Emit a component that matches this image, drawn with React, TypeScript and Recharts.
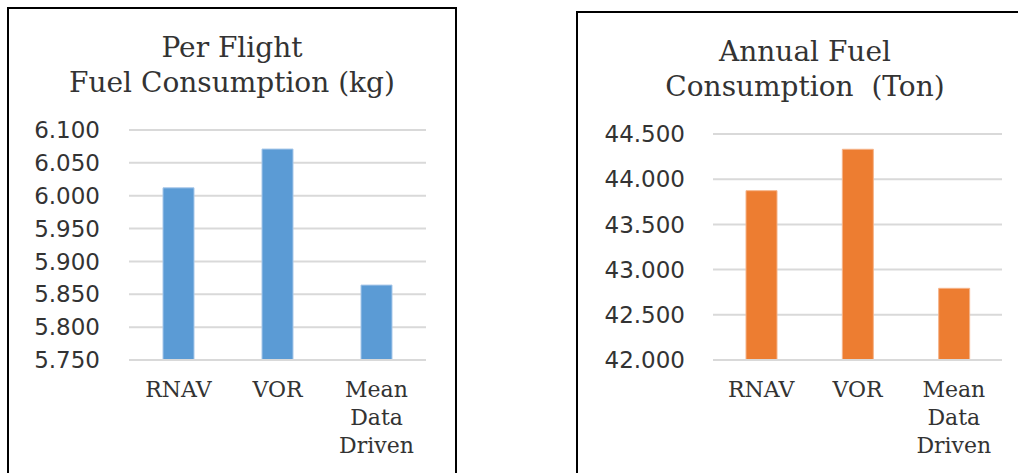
import React from 'react'
import { BarChart, Bar, XAxis, YAxis, CartesianGrid } from 'recharts'

const categories = ['RNAV', 'VOR', 'Mean Data Driven']
const perFlightKg = [6.012, 6.071, 5.864]
const annualTon = [43.873, 44.331, 42.793]
const perFlightTicks = [5.75, 5.8, 5.85, 5.9, 5.95, 6.0, 6.05, 6.1]
const annualTicks = [42.0, 42.5, 43.0, 43.5, 44.0, 44.5]

const BLUE = '#5b9bd5'
const ORANGE = '#ed7d31'
const GRID = '#d9d9d9'
const INK = '#333333'
const SERIF = '"DejaVu Serif", serif'
const SANS = '"DejaVu Sans", sans-serif'

const perFlightData = categories.map((name, i) => ({ name, value: perFlightKg[i] }))
const annualData = categories.map((name, i) => ({ name, value: annualTon[i] }))

// category labels break onto one line per word, like "Mean / Data / Driven"
function CategoryTick({ x, y, payload }: any) {
  const words = String(payload.value).split(' ')
  return (
    <text x={x} y={y} textAnchor="middle" fontFamily={SERIF} fontSize={22} fill={INK}>
      {words.map((w, i) => (
        <tspan key={i} x={x} y={y + 37 + i * 28}>{w}</tspan>
      ))}
    </text>
  )
}

function Panel({ left, top, width, height, title, children }: {
  left: number; top: number; width: number; height: number; title: string[]; children: React.ReactNode
}) {
  return (
    <div style={{ position: 'absolute', left, top, width, height, boxSizing: 'border-box', border: '2px solid #000', background: '#fff' }}>
      <div style={{ position: 'absolute', left: 0, right: 0, top: 21, textAlign: 'center', fontFamily: SERIF, fontSize: 28, lineHeight: '35px', color: INK, whiteSpace: 'pre' }}>
        {title.map((t) => <div key={t}>{t}</div>)}
      </div>
      <div style={{ position: 'absolute', left: -2, top: -2 }}>{children}</div>
    </div>
  )
}

export default function App() {
  return (
    <div style={{ position: 'absolute', left: 0, top: 0, width: 1018, height: 473, overflow: 'hidden', background: '#fff' }}>
      <Panel left={7} top={7} width={450} height={480} title={['Per Flight', 'Fuel Consumption (kg)']}>
        <BarChart width={449} height={466} data={perFlightData} margin={{ top: 123, right: 30, bottom: 0, left: 22 }}>
          <CartesianGrid horizontal vertical={false} stroke={GRID} strokeWidth={2} />
          <XAxis dataKey="name" height={113} tick={<CategoryTick />} tickLine={false} tickSize={0} tickMargin={0}
            axisLine={{ stroke: GRID, strokeWidth: 2 }} interval={0} />
          <YAxis domain={[5.75, 6.1]} ticks={perFlightTicks} width={100} axisLine={false} tickLine={false} tickMargin={23}
            tickFormatter={(v: number) => v.toFixed(3)} tick={{ fontFamily: SANS, fontSize: 23, fill: INK }} allowDataOverflow />
          <Bar dataKey="value" fill={BLUE} stroke="#a7c7e9" strokeWidth={1} barSize={31} isAnimationActive={false} />
        </BarChart>
      </Panel>

      <Panel left={576} top={11} width={458} height={480} title={['Annual Fuel', 'Consumption  (Ton)']}>
        <BarChart width={457} height={462} data={annualData} margin={{ top: 123, right: 31, bottom: 0, left: 27 }}>
          <CartesianGrid horizontal vertical={false} stroke={GRID} strokeWidth={2} />
          <XAxis dataKey="name" height={113} tick={<CategoryTick />} tickLine={false} tickSize={0} tickMargin={0}
            axisLine={{ stroke: GRID, strokeWidth: 2 }} interval={0} />
          <YAxis domain={[42, 44.5]} ticks={annualTicks} width={110} axisLine={false} tickLine={false} tickMargin={22}
            tickFormatter={(v: number) => v.toFixed(3)} tick={{ fontFamily: SANS, fontSize: 23, fill: INK }} allowDataOverflow />
          <Bar dataKey="value" fill={ORANGE} stroke="#f5b48a" strokeWidth={1} barSize={31} isAnimationActive={false} />
        </BarChart>
      </Panel>
    </div>
  )
}
